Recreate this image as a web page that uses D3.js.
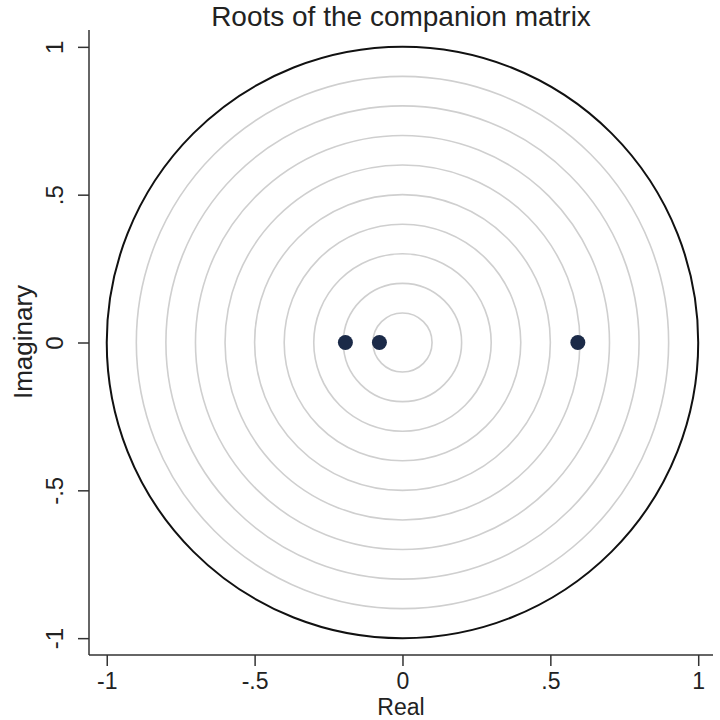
<!DOCTYPE html>
<html>
<head>
<meta charset="utf-8">
<script src="https://cdn.jsdelivr.net/npm/d3@7"></script>
<style>
  body { margin: 0; background: #fff; }
  text { font-family: "Liberation Sans", Arial, sans-serif; fill: #222; }
</style>
</head>
<body>
<div id="chart"></div>
<script>
// roots of the companion matrix (real, imaginary)
var rootsReal = [-0.193, -0.078, 0.593];
var rootsImag = [0, 0, 0];
// reference circles drawn by the plot
var gridRadii = [0.1, 0.2, 0.3, 0.4, 0.5, 0.6, 0.7, 0.8, 0.9];
var unitRadius = 1;
var tickValues = [-1, -0.5, 0, 0.5, 1];
var tickLabels = ["-1", "-.5", "0", ".5", "1"];

var width = 720, height = 720;

var svg = d3.select("#chart")
  .append("svg")
  .attr("width", width)
  .attr("height", height);

var x = d3.scaleLinear().domain([-1.06, 1.05]).range([89, 713]);
var y = d3.scaleLinear().domain([-1.057, 1.057]).range([655, 30]);

// grey rings
svg.selectAll("circle.ring").data(gridRadii)
  .enter().append("circle")
  .attr("class", "ring")
  .attr("cx", x(0))
  .attr("cy", y(0))
  .attr("r", function(d) { return x(d) - x(0); })
  .style("fill", "none")
  .style("stroke", "#cfcfcf")
  .style("stroke-width", 1.6);

// unit circle
svg.append("circle")
  .attr("cx", x(0))
  .attr("cy", y(0))
  .attr("r", x(unitRadius) - x(0))
  .style("fill", "none")
  .style("stroke", "#111")
  .style("stroke-width", 2);

// roots
svg.selectAll("circle.root").data(rootsReal)
  .enter().append("circle")
  .attr("class", "root")
  .attr("cx", function(d) { return x(d); })
  .attr("cy", function(d, i) { return y(rootsImag[i]); })
  .attr("r", 7.5)
  .style("fill", "#1b2a48");

// axes
var xAxis = d3.axisBottom(x)
  .tickValues(tickValues)
  .tickSize(11)
  .tickPadding(7)
  .tickFormat(function(d, i) { return tickLabels[i]; });

var yAxis = d3.axisLeft(y)
  .tickValues(tickValues)
  .tickSize(11)
  .tickPadding(6)
  .tickFormat(function(d, i) { return tickLabels[i]; });

var gx = svg.append("g")
  .attr("transform", "translate(0,655)")
  .call(xAxis);
gx.select(".domain").attr("d", "M89,0H713");

var gy = svg.append("g")
  .attr("transform", "translate(89,0)")
  .call(yAxis);
gy.select(".domain").attr("d", "M0,30V655");

svg.selectAll(".domain, .tick line")
  .style("stroke", "#333")
  .style("stroke-width", 1.5);

gx.selectAll("text")
  .style("font-size", "23px")
  .style("fill", "#222");

gy.selectAll(".tick text")
  .style("font-size", "24px")
  .style("fill", "#222")
  .attr("text-anchor", "middle")
  .attr("dy", null)
  .attr("x", null)
  .attr("transform", "translate(-26,0) rotate(-90)");

// title and axis titles
svg.append("text")
  .attr("x", 401)
  .attr("y", 26)
  .attr("text-anchor", "middle")
  .style("font-size", "28px")
  .text("Roots of the companion matrix");

svg.append("text")
  .attr("transform", "translate(32,342) rotate(-90)")
  .attr("text-anchor", "middle")
  .style("font-size", "26px")
  .text("Imaginary");

svg.append("text")
  .attr("x", 401)
  .attr("y", 715)
  .attr("text-anchor", "middle")
  .style("font-size", "23px")
  .text("Real");
</script>
</body>
</html>
